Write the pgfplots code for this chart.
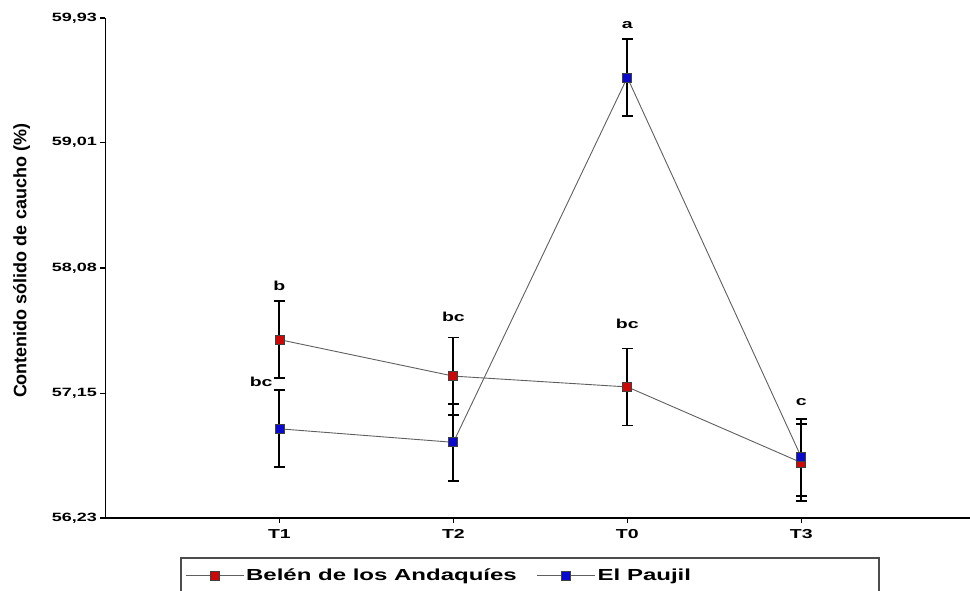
\documentclass[border=0pt]{standalone}
\usepackage{fontspec}
\setmainfont{Liberation Sans}
\newfontfamily\widefont{Liberation Sans}[FakeStretch=1.5]
\usepackage{pgfplots}
\pgfplotsset{compat=1.18}
\definecolor{lnc}{RGB}{95,95,95}
\definecolor{redm}{RGB}{200,10,10}
\definecolor{bluem}{RGB}{10,10,200}
\begin{document}
\begin{tikzpicture}[x=1pt,y=1pt]
\useasboundingbox (0,0) rectangle (970,590);
\begin{axis}[
  at={(105.5pt,72pt)}, anchor=south west,
  scale only axis, width=864.5pt, height=500pt,
  clip=false,
  xmin=0, xmax=4.97, ymin=56.23, ymax=59.93,
  axis x line*=bottom, axis y line*=left,
  axis line style={line width=1.6pt, -},
  xtick={1,2,3,4}, xticklabels={T1,T2,T0,T3},
  ytick={56.23,57.15,58.08,59.01,59.93},
  yticklabels={{56,23},{57,15},{58,08},{59,01},{59,93}},
  tick align=outside, major tick length=5pt,
  tick style={line width=1.2pt, black},
  ticklabel style={font=\widefont\bfseries\fontsize{12}{14}\selectfont},
  xticklabel style={font=\widefont\bfseries\fontsize{13}{15}\selectfont, yshift=-3pt},
  ylabel={Contenido sólido de caucho (\%)},
  ylabel style={font=\bfseries\fontsize{18}{20}\selectfont, at={(axis description cs:-0.097,0.514)}, anchor=center},
  legend columns=2,
  legend style={at={(axis description cs:0.0867,-0.079)}, anchor=north west,
    draw=black!70, line width=1.5pt, inner xsep=4pt, inner ysep=9pt,
    font=\widefont\bfseries\fontsize{16}{18}\selectfont,
    /tikz/every even column/.append style={column sep=18pt}},
  legend image code/.code={\draw[mark repeat=2,mark phase=2,#1] plot coordinates {(0pt,0pt)(29pt,0pt)(58pt,0pt)};},
  error bars/error bar style={black, line width=2pt},
  error bars/error mark options={rotate=90, mark size=5.5pt, line width=1.8pt, black},
]
\addplot[lnc, line width=0.9pt, mark=square*, mark size=4.5pt,
  mark options={fill=redm, draw=black!75, line width=0.8pt},
  error bars/.cd, y dir=both, y explicit]
  coordinates {(1,57.55) +- (0,0.285) (2,57.28) +- (0,0.285) (3,57.20) +- (0,0.285) (4,56.64) +- (0,0.285)};
\addlegendentry{Belén de los Andaquíes}
\addplot[lnc, line width=0.9pt, mark=square*, mark size=4.5pt,
  mark options={fill=bluem, draw=black!75, line width=0.8pt},
  error bars/.cd, y dir=both, y explicit]
  coordinates {(1,56.89) +- (0,0.285) (2,56.79) +- (0,0.285) (3,59.49) +- (0,0.285) (4,56.68) +- (0,0.285)};
\addlegendentry{El Paujil\hspace*{182pt}}
\tikzset{lt/.style={font=\widefont\bfseries\fontsize{13}{15}\selectfont}}
\node[lt] at (axis cs:1,57.95) {b};
\node[lt] at (axis cs:0.895,57.24) {bc};
\node[lt] at (axis cs:2,57.72) {bc};
\node[lt] at (axis cs:3,59.88) {a};
\node[lt] at (axis cs:3,57.67) {bc};
\node[lt] at (axis cs:4,57.09) {c};
\end{axis}
\end{tikzpicture}
\end{document}
